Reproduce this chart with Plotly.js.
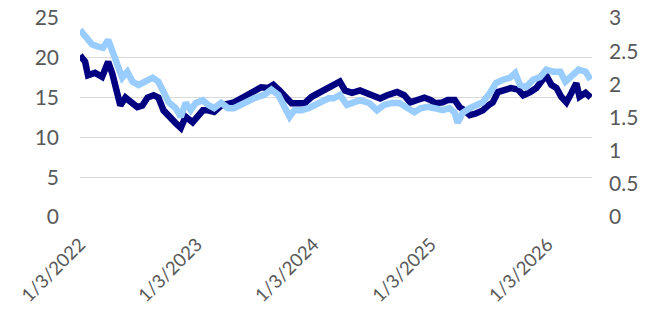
<!DOCTYPE html>
<html>
<head>
<meta charset="utf-8">
<script src="https://cdn.plot.ly/plotly-3.0.1.min.js"></script>
<style>html,body{margin:0;padding:0;background:#fff;}#chart{width:655px;height:316px;}</style>
</head>
<body>
<div id="chart"></div>
<script>
var darkDates = ["2022-01-03","2022-01-19","2022-01-28","2022-02-19","2022-03-13","2022-04-01","2022-04-14","2022-04-29","2022-05-09","2022-05-25","2022-06-09","2022-07-01","2022-07-17","2022-08-02","2022-08-21","2022-09-05","2022-09-21","2022-10-07","2022-10-29","2022-11-14","2022-11-29","2022-12-21","2023-01-06","2023-01-22","2023-02-07","2023-02-26","2023-03-20","2023-04-11","2023-04-29","2023-05-31","2023-07-01","2023-07-23","2023-08-14","2023-08-30","2023-09-18","2023-10-10","2023-10-26","2023-11-17","2023-12-06","2023-12-28","2024-01-19","2024-02-13","2024-03-06","2024-03-25","2024-04-10","2024-05-02","2024-05-27","2024-06-18","2024-07-10","2024-07-29","2024-08-20","2024-09-20","2024-10-12","2024-10-31","2024-11-22","2024-12-14","2025-01-02","2025-01-18","2025-02-09","2025-02-25","2025-03-19","2025-04-03","2025-04-19","2025-05-05","2025-05-24","2025-06-15","2025-07-01","2025-07-16","2025-08-01","2025-08-23","2025-09-11","2025-10-03","2025-10-19","2025-11-10","2025-11-29","2025-12-14","2025-12-30","2026-01-15","2026-01-31","2026-02-15","2026-03-03","2026-03-19","2026-04-03","2026-04-13","2026-05-02","2026-05-18"];
var darkValues = [20.3,19.5,17.8,18.1,17.6,19.5,18.0,15.3,14.0,15.0,14.4,13.8,14.0,15.0,15.3,15.0,13.4,12.6,11.8,11.2,12.6,11.9,12.8,13.4,13.4,13.2,14.0,14.3,14.4,15.1,15.9,16.3,16.2,16.6,15.9,14.9,14.3,14.3,14.3,15.1,15.6,16.2,16.6,17.0,15.9,15.6,15.9,15.6,15.3,14.9,15.3,15.7,15.3,14.4,14.7,15.0,14.7,14.3,14.4,14.7,14.7,13.8,13.4,12.8,13.0,13.4,14.0,14.4,15.7,15.9,16.2,16.0,15.3,15.7,16.2,17.0,17.8,16.6,16.2,15.1,14.4,15.6,16.8,15.1,15.6,15.0];

var lightDates = ["2022-01-03","2022-01-19","2022-02-10","2022-03-01","2022-03-16","2022-04-01","2022-04-17","2022-04-29","2022-05-15","2022-05-31","2022-06-16","2022-07-05","2022-07-27","2022-08-18","2022-09-05","2022-09-21","2022-10-07","2022-10-29","2022-11-14","2022-11-29","2022-12-15","2022-12-31","2023-01-22","2023-02-07","2023-02-26","2023-03-20","2023-04-11","2023-04-29","2023-05-31","2023-07-01","2023-08-02","2023-08-24","2023-09-15","2023-10-04","2023-10-20","2023-11-04","2023-11-26","2023-12-18","2024-01-06","2024-01-28","2024-02-19","2024-03-06","2024-03-25","2024-04-16","2024-05-08","2024-05-27","2024-06-24","2024-07-19","2024-08-10","2024-09-05","2024-09-27","2024-10-22","2024-11-13","2024-12-02","2024-12-24","2025-01-15","2025-02-09","2025-03-03","2025-03-19","2025-03-28","2025-04-13","2025-05-05","2025-05-24","2025-06-15","2025-07-07","2025-07-26","2025-08-17","2025-09-08","2025-09-24","2025-10-09","2025-10-28","2025-11-19","2025-12-11","2025-12-30","2026-01-21","2026-02-12","2026-02-28","2026-03-19","2026-04-10","2026-05-02","2026-05-18"];
var lightValues = [2.82,2.72,2.60,2.57,2.55,2.67,2.47,2.26,2.10,2.19,2.04,1.99,2.04,2.10,2.04,1.89,1.73,1.64,1.51,1.72,1.61,1.72,1.76,1.69,1.64,1.72,1.64,1.64,1.72,1.79,1.84,1.92,1.84,1.66,1.51,1.61,1.61,1.64,1.69,1.72,1.79,1.79,1.84,1.69,1.73,1.76,1.72,1.61,1.69,1.72,1.72,1.66,1.58,1.64,1.66,1.64,1.61,1.64,1.57,1.42,1.57,1.64,1.69,1.73,1.87,2.02,2.07,2.10,2.17,1.99,1.96,2.07,2.11,2.22,2.19,2.19,2.04,2.14,2.22,2.19,2.07];

var tickDates = ["2022-01-03","2023-01-03","2024-01-03","2025-01-03","2026-01-03"];
var tickLabels = ["1/3/2022","1/3/2023","1/3/2024","1/3/2025","1/3/2026"];

var fontFam = "Lato, 'Open Sans', sans-serif";
var tf = {family: fontFam, size: 21, color: "#595959"};
var xf = {family: fontFam, size: 18.5, color: "#595959"};
var traces = [
  {x: darkDates, y: darkValues, type: "scatter", mode: "lines", yaxis: "y",
   line: {color: "#000080", width: 6.5, shape: "linear"}, hoverinfo: "skip"},
  {x: lightDates, y: lightValues, type: "scatter", mode: "lines", yaxis: "y2",
   line: {color: "#99CCFF", width: 6.5, shape: "linear"}, hoverinfo: "skip"}
];
var layout = {
  width: 655, height: 316,
  margin: {l: 80, r: 63, t: 18, b: 99},
  paper_bgcolor: "#ffffff", plot_bgcolor: "#ffffff",
  showlegend: false,
  font: tf,
  xaxis: {type: "date", range: ["2022-01-03", "2026-05-22"], automargin: false,
    tickmode: "array", tickvals: tickDates, ticktext: tickLabels, tickangle: -45,
    showgrid: false, zeroline: false, showline: false, ticks: "", ticklabelstandoff: 12,
    tickfont: xf},
  yaxis: {range: [0, 25], tickvals: [0,5,10,15,20,25], showgrid: true, gridcolor: "#d9d9d9", gridwidth: 1.3,
    zeroline: false, showline: false, ticks: "", ticklabelstandoff: 20, automargin: false,
    tickfont: tf},
  yaxis2: {range: [0, 3], tickvals: [0,0.5,1,1.5,2,2.5,3], overlaying: "y", side: "right",
    showgrid: false, zeroline: false, showline: false, ticks: "", ticklabelstandoff: 16, automargin: false,
    tickfont: tf}
};
Plotly.newPlot("chart", traces, layout, {displayModeBar: false, staticPlot: true});
</script>
</body>
</html>
